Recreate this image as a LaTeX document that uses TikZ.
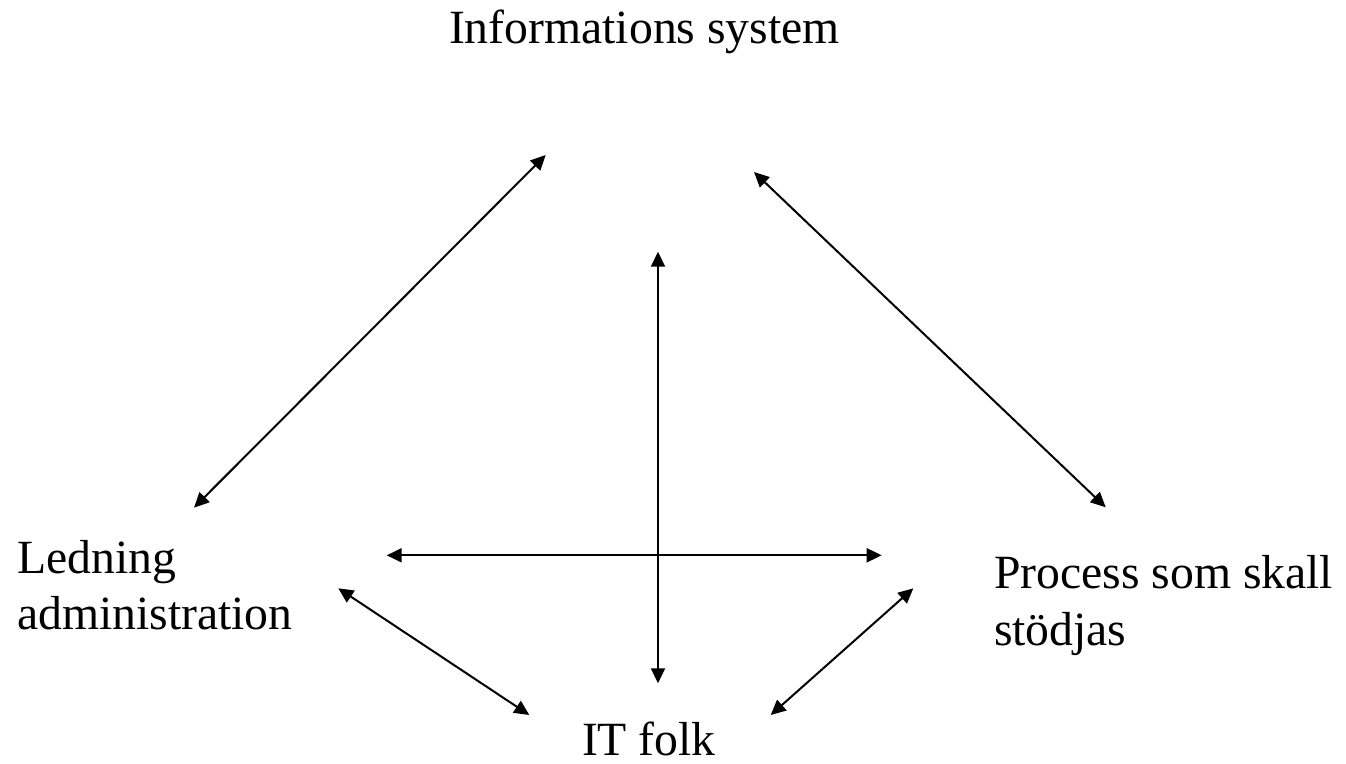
\documentclass[tikz,border=0pt]{standalone}
\usepackage{fontspec}
\setmainfont{Liberation Serif}
\usetikzlibrary{arrows.meta}
\begin{document}
\begin{tikzpicture}[x=1pt,y=-1pt,
  lbl/.style={inner sep=0pt, outer sep=0pt, align=left, font=\fontsize{47.7}{56.5}\selectfont},
  link/.style={line width=2pt, {Triangle[length=15pt,width=14pt]}-{Triangle[length=15pt,width=14pt]}}]
\useasboundingbox (0,0) rectangle (1346,763);
% labels (base anchor = baseline of last line)
\node[lbl, anchor=base west] (info) at (449,43) {Informations system};
\node[lbl, anchor=base west] (led) at (17,629.5) {Ledning\\administration};
\node[lbl, anchor=base west] (proc) at (994,645) {Process som skall\\stödjas};
\node[lbl, anchor=base west] (it) at (582,755) {IT folk};
% arrow end points
\coordinate (a1) at (545.7,155);
\coordinate (a2) at (194,507.7);
\coordinate (b1) at (754,172);
\coordinate (b2) at (1105.7,507.3);
\coordinate (v1) at (658,251.7);
\coordinate (v2) at (658,683.3);
\coordinate (h1) at (386.7,555.3);
\coordinate (h2) at (881.7,555.3);
\coordinate (c1) at (338.3,588.3);
\coordinate (c2) at (529.3,715);
\coordinate (d1) at (913.3,588.3);
\coordinate (d2) at (770.7,715);
% connectors
\draw[link] (a2) -- (a1);
\draw[link] (b1) -- (b2);
\draw[link] (v1) -- (v2);
\draw[link] (h1) -- (h2);
\draw[link] (c1) -- (c2);
\draw[link] (d1) -- (d2);
\end{tikzpicture}
\end{document}
